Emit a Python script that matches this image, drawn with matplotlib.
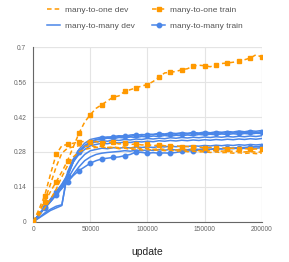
import matplotlib
matplotlib.use("Agg")
import matplotlib.pyplot as plt
from matplotlib.lines import Line2D

plt.rcParams['font.family'] = ['Liberation Sans', 'DejaVu Sans']

updates = list(range(0, 200001, 5000))

# many-to-one (orange)
one_train_a = [0, 0.04, 0.08, 0.12, 0.16, 0.20, 0.245, 0.30, 0.355, 0.40, 0.43, 0.455, 0.47, 0.485, 0.50, 0.505,
               0.523, 0.53, 0.537, 0.545, 0.55, 0.563, 0.58, 0.597, 0.60, 0.603, 0.61, 0.614, 0.625, 0.628, 0.626,
               0.622, 0.63, 0.635, 0.637, 0.64, 0.644, 0.65, 0.657, 0.67, 0.661]
one_train_b = [0, 0.05, 0.105, 0.19, 0.27, 0.305, 0.31, 0.315, 0.32, 0.322, 0.318, 0.322, 0.315, 0.32, 0.318, 0.312,
               0.315, 0.31, 0.312, 0.308, 0.31, 0.305, 0.308, 0.305, 0.302, 0.305, 0.30, 0.302, 0.298, 0.30, 0.296,
               0.298, 0.295, 0.297, 0.293, 0.295, 0.292, 0.294, 0.29, 0.292, 0.29]
one_dev_a = [0, 0.035, 0.085, 0.15, 0.22, 0.275, 0.295, 0.30, 0.305, 0.302, 0.305, 0.30, 0.303, 0.298, 0.30, 0.297,
             0.30, 0.295, 0.297, 0.293, 0.295, 0.29, 0.293, 0.29, 0.292, 0.288, 0.29, 0.287, 0.289, 0.285, 0.287,
             0.284, 0.286, 0.283, 0.285, 0.282, 0.283, 0.28, 0.282, 0.279, 0.28]
one_dev_b = [0, 0.025, 0.055, 0.09, 0.13, 0.18, 0.225, 0.26, 0.28, 0.29, 0.295, 0.298, 0.30, 0.296, 0.298, 0.293,
             0.295, 0.29, 0.292, 0.288, 0.29, 0.287, 0.288, 0.285, 0.287, 0.283, 0.285, 0.281, 0.283, 0.28, 0.281,
             0.278, 0.28, 0.277, 0.278, 0.275, 0.277, 0.274, 0.276, 0.273, 0.275]

# many-to-many (blue)
many_dev_a = [0, 0.03, 0.06, 0.09, 0.12, 0.15, 0.19, 0.25, 0.29, 0.315, 0.33, 0.335, 0.34, 0.338, 0.342, 0.345,
              0.343, 0.348, 0.35, 0.347, 0.352, 0.35, 0.355, 0.352, 0.356, 0.354, 0.357, 0.355, 0.358, 0.356, 0.36,
              0.357, 0.361, 0.359, 0.362, 0.36, 0.364, 0.361, 0.365, 0.363, 0.366]
many_dev_b = [0, 0.028, 0.056, 0.085, 0.113, 0.14, 0.18, 0.24, 0.28, 0.305, 0.32, 0.328, 0.332, 0.335, 0.333, 0.338,
              0.336, 0.34, 0.338, 0.342, 0.34, 0.344, 0.342, 0.346, 0.343, 0.347, 0.345, 0.348, 0.346, 0.35, 0.348,
              0.351, 0.349, 0.352, 0.35, 0.353, 0.351, 0.354, 0.352, 0.355, 0.354]
many_dev_c = [0, 0.015, 0.03, 0.045, 0.055, 0.065, 0.20, 0.25, 0.28, 0.30, 0.315, 0.32, 0.325, 0.323, 0.328, 0.326,
              0.33, 0.328, 0.332, 0.33, 0.334, 0.332, 0.335, 0.333, 0.337, 0.335, 0.338, 0.336, 0.339, 0.337, 0.34,
              0.338, 0.341, 0.339, 0.342, 0.34, 0.343, 0.341, 0.344, 0.342, 0.345]
many_dev_d = [0, 0.017, 0.035, 0.05, 0.062, 0.068, 0.19, 0.24, 0.27, 0.29, 0.305, 0.31, 0.315, 0.313, 0.318, 0.316,
              0.32, 0.318, 0.322, 0.32, 0.323, 0.321, 0.325, 0.323, 0.326, 0.324, 0.327, 0.325, 0.328, 0.326, 0.329,
              0.327, 0.33, 0.328, 0.331, 0.329, 0.332, 0.33, 0.333, 0.331, 0.334]
many_dev_e = [0, 0.028, 0.055, 0.083, 0.11, 0.14, 0.17, 0.21, 0.245, 0.27, 0.285, 0.29, 0.295, 0.293, 0.297, 0.295,
              0.298, 0.296, 0.30, 0.298, 0.30, 0.298, 0.302, 0.30, 0.303, 0.301, 0.304, 0.302, 0.305, 0.303, 0.306,
              0.304, 0.307, 0.305, 0.308, 0.306, 0.309, 0.307, 0.31, 0.308, 0.31]
many_dev_f = [0, 0.027, 0.054, 0.08, 0.107, 0.133, 0.16, 0.19, 0.22, 0.245, 0.26, 0.27, 0.275, 0.278, 0.28, 0.282,
              0.285, 0.283, 0.287, 0.285, 0.288, 0.286, 0.289, 0.287, 0.29, 0.288, 0.291, 0.289, 0.292, 0.29, 0.293,
              0.291, 0.294, 0.292, 0.295, 0.293, 0.296, 0.294, 0.297, 0.295, 0.297]
many_train_a = [0, 0.028, 0.055, 0.08, 0.108, 0.135, 0.16, 0.185, 0.205, 0.22, 0.235, 0.245, 0.252, 0.255, 0.258,
                0.26, 0.265, 0.27, 0.28, 0.278, 0.275, 0.277, 0.275, 0.276, 0.275, 0.278, 0.282, 0.284, 0.285, 0.287,
                0.288, 0.29, 0.292, 0.293, 0.295, 0.296, 0.297, 0.298, 0.30, 0.301, 0.302]
many_train_b = [0, 0.03, 0.06, 0.09, 0.12, 0.15, 0.185, 0.24, 0.28, 0.305, 0.32, 0.33, 0.335, 0.34, 0.338, 0.342,
                0.345, 0.343, 0.347, 0.35, 0.348, 0.35, 0.352, 0.35, 0.353, 0.351, 0.354, 0.352, 0.355, 0.353, 0.356,
                0.354, 0.357, 0.355, 0.358, 0.356, 0.358, 0.357, 0.36, 0.358, 0.36]

x_ticks = [0, 50000, 100000, 150000, 200000]
y_ticks = [0, 0.14, 0.28, 0.42, 0.56, 0.7]
y_tick_labels = ['0', '0.14', '0.28', '0.42', '0.56', '0.7']

ORANGE = '#FF9900'
BLUE = '#4A86E8'

fig = plt.figure(figsize=(2.89, 2.62), dpi=100)
ax = fig.add_axes([0.1152, 0.1538, 0.7903, 0.6657])

dash = (0, (3, 2))
lw = 1.1
for s in [many_dev_a, many_dev_b, many_dev_c, many_dev_d, many_dev_e, many_dev_f]:
    ax.plot(updates, s, color=BLUE, lw=lw, zorder=3)
for s in [many_train_a, many_train_b]:
    ax.plot(updates, s, color=BLUE, lw=lw, marker='o', markersize=3.2, markevery=2, zorder=3)
for s in [one_dev_a, one_dev_b]:
    ax.plot(updates, s, color=ORANGE, lw=lw, linestyle=dash, zorder=4)
for s in [one_train_a, one_train_b]:
    ax.plot(updates, s, color=ORANGE, lw=lw, linestyle=dash, marker='s', markersize=2.8, markevery=2, zorder=4)

ax.set_xlim(0, 200000)
ax.set_ylim(0, 0.7)
ax.set_xticks(x_ticks)
ax.set_xticklabels([str(v) for v in x_ticks])
ax.set_yticks(y_ticks)
ax.set_yticklabels(y_tick_labels)
ax.tick_params(length=0, labelsize=4.8, labelcolor='#666666')
ax.tick_params(axis='y', pad=5)
ax.tick_params(axis='x', pad=3)
ax.grid(True, color='#e4e4e4', lw=0.8)
ax.set_axisbelow(True)
for side in ['top', 'right']:
    ax.spines[side].set_visible(False)
for side in ['left', 'bottom']:
    ax.spines[side].set_color('#666666')
    ax.spines[side].set_linewidth(0.8)
ax.axhline(0.7, color='#e4e4e4', lw=0.8, zorder=0)
ax.axvline(200000, color='#e4e4e4', lw=0.8, zorder=0)

ax.set_xlabel('update', fontsize=7.5, color='#222222', labelpad=10)

handles = [
    Line2D([], [], color=ORANGE, lw=lw, linestyle=dash),
    Line2D([], [], color=BLUE, lw=lw),
    Line2D([], [], color=ORANGE, lw=lw, linestyle=dash, marker='s', markersize=2.8),
    Line2D([], [], color=BLUE, lw=lw, marker='o', markersize=3.2),
]
labels = ['many-to-one dev', 'many-to-many dev', 'many-to-one train', 'many-to-many train']
fig.legend(handles, labels, ncol=2, loc='upper left', bbox_to_anchor=(0.163, 0.977),
           frameon=False, fontsize=6, labelcolor='#555555', handlelength=1.6,
           handletextpad=0.6, columnspacing=2.0, labelspacing=1.0,
           borderpad=0, borderaxespad=0)

fig.savefig('out.png', dpi=100)
